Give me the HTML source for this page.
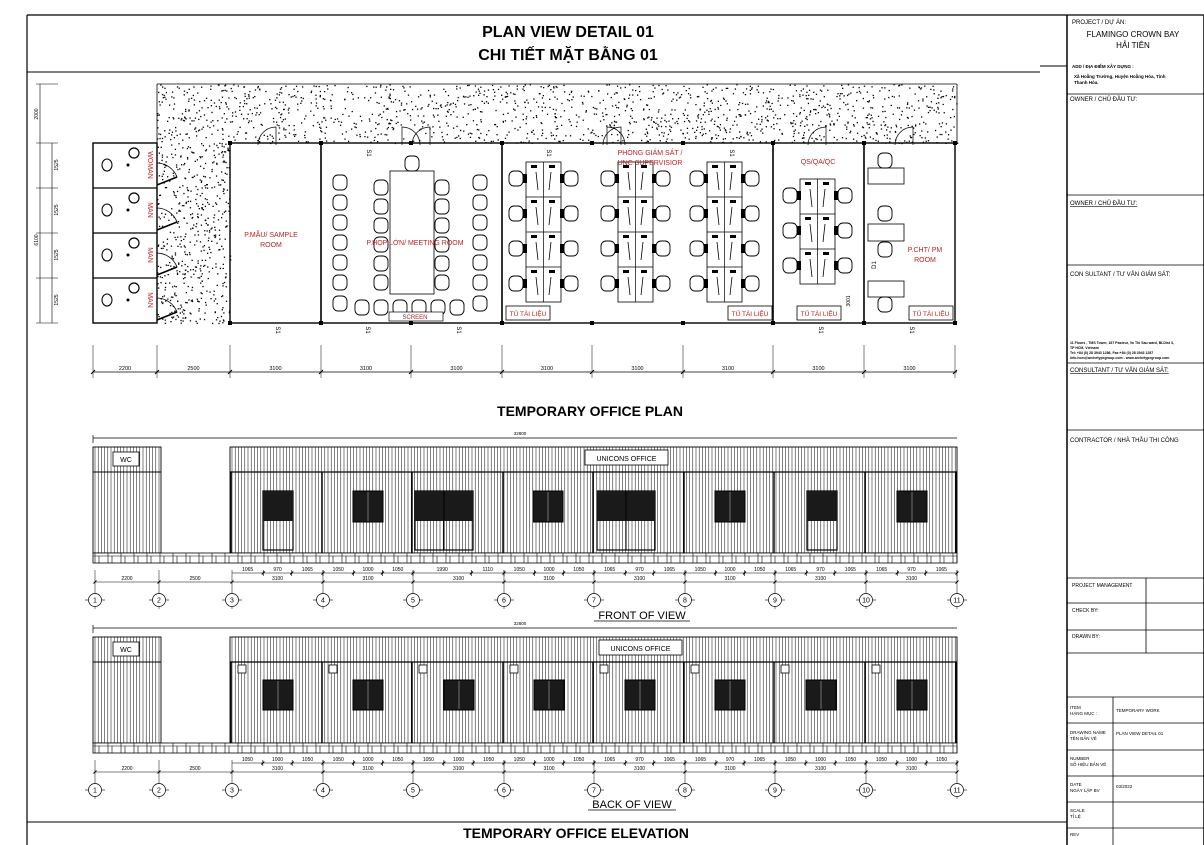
<!DOCTYPE html>
<html><head><meta charset="utf-8"><style>
html,body{margin:0;padding:0;background:#fff}
svg{display:block}
text{font-family:"Liberation Sans",sans-serif}
</style></head><body>
<svg id="s" width="1204" height="845" viewBox="0 0 1204 845" xmlns="http://www.w3.org/2000/svg">
<rect width="1204" height="845" fill="#fff"/>
<g id="g"></g>
<g font-weight="bold" text-anchor="middle" fill="#000">
<text x="568" y="37" font-size="16">PLAN VIEW DETAIL 01</text>
<text x="568" y="60" font-size="16">CHI TIẾT MẶT BẰNG 01</text>
<text x="590" y="416" font-size="14">TEMPORARY OFFICE PLAN</text>
<text x="576" y="838" font-size="14">TEMPORARY OFFICE ELEVATION</text>
</g>
<g font-size="11" fill="#000" text-anchor="middle">
<text x="642" y="619">FRONT OF VIEW</text>
<text x="632" y="808">BACK OF VIEW</text>
</g>
<line x1="594" y1="621" x2="690" y2="621" stroke="#000" stroke-width="0.8"/>
<line x1="588" y1="810" x2="676" y2="810" stroke="#000" stroke-width="0.8"/>
<g font-size="6" fill="#000">
<text x="1072" y="24">PROJECT / DỰ ÁN:</text>
<text x="1133" y="37" font-size="8" text-anchor="middle">FLAMINGO CROWN BAY</text>
<text x="1133" y="48" font-size="8" text-anchor="middle">HẢI TIÊN</text>
<text x="1072" y="68" font-size="4.5" font-weight="bold">ADD / ĐỊA ĐIỂM XÂY DỰNG :</text>
<text x="1074" y="78" font-size="4.5" font-weight="bold">Xã Hoằng Trường, Huyện Hoằng Hóa, Tỉnh</text>
<text x="1074" y="84" font-size="4.5" font-weight="bold">Thanh Hóa.</text>
<text x="1070" y="101">OWNER / CHỦ ĐẦU TƯ:</text>
<text x="1070" y="205" text-decoration="underline">OWNER / CHỦ ĐẦU TƯ:</text>
<text x="1070" y="276">CON SULTANT / TƯ VẤN GIÁM SÁT:</text>
<text x="1070" y="372" text-decoration="underline">CONSULTANT / TƯ VẤN GIÁM SÁT:</text>
<text x="1070" y="442">CONTRACTOR / NHÀ THẦU THI CÔNG</text>
<text x="1070" y="344" font-size="3.5" font-weight="bold">11 Floors , TMS Tower, 167 Pasteur, Vo Thi Sau ward, BLDist 3,</text>
<text x="1070" y="349" font-size="3.5" font-weight="bold">TP HCM, Vietnam</text>
<text x="1070" y="354" font-size="3.5" font-weight="bold">Tel: +84 (0) 28 3943 1286, Fax:+84 (0) 28 3943 1287</text>
<text x="1070" y="359" font-size="3.5" font-weight="bold">info.hcm@archetypegroup.com - www.archetypegroup.com</text>
<text x="1072" y="587" font-size="5">PROJECT MANAGEMENT</text>
<text x="1072" y="612" font-size="5">CHECK BY:</text>
<text x="1072" y="638" font-size="5">DRAWN BY:</text>
<text x="1070" y="709" font-size="4.5">ITEM</text><text x="1070" y="715" font-size="4.5">HẠNG MỤC :</text>
<text x="1116" y="712" font-size="4.5">TEMPORARY WORK</text>
<text x="1070" y="734" font-size="4.5">DRAWING NAME</text><text x="1070" y="740" font-size="4.5">TÊN BẢN VẼ</text>
<text x="1116" y="735" font-size="4.5">PLAN VIEW DETAIL 01</text>
<text x="1070" y="760" font-size="4.5">NUMBER</text><text x="1070" y="766" font-size="4.5">SỐ HIỆU BẢN VẼ</text>
<text x="1070" y="786" font-size="4.5">DATE</text><text x="1070" y="792" font-size="4.5">NGÀY LẬP BV</text>
<text x="1116" y="788" font-size="4.5">03/2022</text>
<text x="1070" y="812" font-size="4.5">SCALE</text><text x="1070" y="818" font-size="4.5">TỈ LỆ</text>
<text x="1070" y="836" font-size="4.5">REV</text>
</g>
</svg>
<script>
var o=[];function L(a,b,c,d,w,col){o.push('<line x1="'+a+'" y1="'+b+'" x2="'+c+'" y2="'+d+'" stroke="'+(col||'#000')+'" stroke-width="'+(w||0.6)+'"/>');}
function R(x,y,w,h,sw,f){o.push('<rect x="'+x+'" y="'+y+'" width="'+w+'" height="'+h+'" fill="'+(f||'none')+'" stroke="#000" stroke-width="'+(sw||0.6)+'"/>');}
function T(x,y,t,s,c,a,rot){o.push('<text x="'+x+'" y="'+y+'" font-size="'+s+'" fill="'+(c||'#000')+'" text-anchor="'+(a||'middle')+'"'+(rot?' transform="rotate('+rot+' '+x+' '+y+')"':'')+'>'+t+'</text>');}
var seed=7;function rnd(){seed=(seed*16807)%2147483647;return seed/2147483647;}
L(27,15,1204,15,1.2);L(27,15,27,845,1.2);L(1067,15,1067,845,1.5);L(1204,15,1204,845,1.5);
L(27,72,1040,72,1);L(1040,66,1067,66,1);L(27,822,1067,822,1);
[94,195,265,363,430,578,603,630,653,697,723,750,776,802,828].forEach(function(y){L(1067,y,1204,y,0.8);});
L(1146,578,1146,653,0.8);L(1113,697,1113,845,0.8);
function dots(x,y,w,h,n){for(var i=0;i<n;i++){var px=x+rnd()*w,py=y+rnd()*h;o.push('<rect x="'+px.toFixed(1)+'" y="'+py.toFixed(1)+'" width="1.3" height="1.3" fill="#000"/>');}}
dots(157,84,800,59,1500);dots(157,143,73,180,520);
L(157,84,957,84,0.8);L(157,84,157,145,0.8);L(957,84,957,143,0.8);
R(93,143,64,180,1.4);[188,233,278].forEach(function(y){L(93,y,157,y,1.2);});
var labels=[];
["WOMAN","MAN","MAN","MAN"].forEach(function(t,i){var y=143+i*45;
 o.push('<ellipse cx="107" cy="'+(y+22)+'" rx="5" ry="6" fill="none" stroke="#000" stroke-width="1"/>');
 o.push('<circle cx="134" cy="'+(y+10)+'" r="5" fill="none" stroke="#000" stroke-width="1.2"/>');
 o.push('<circle cx="128" cy="'+(y+22)+'" r="1.5" fill="#000"/>');
 T(148,y+22,t,7,'#b22',null,90);
 o.push('<path d="M157 '+(y+42)+' L177 '+(y+34)+' A22 22 0 0 0 157 '+(y+20)+'" fill="none" stroke="#000" stroke-width="0.8"/>');
 L(157,y+42,177,y+34,1.5);
});
R(230,143,725,180,1.4);
[321,502,773,864].forEach(function(x){L(x,143,x,323,1.6);});
[230,321,411,502,592,683,773,864,955].forEach(function(x){o.push('<rect x="'+(x-2)+'" y="141" width="4" height="4" fill="#000"/><rect x="'+(x-2)+'" y="321" width="4" height="4" fill="#000"/>');});
[[258,145],[412,145],[603,145],[808,145],[895,145]].forEach(function(d){o.push('<path d="M'+d[0]+' '+d[1]+' A18 18 0 0 1 '+(d[0]+18)+' '+(d[1]-18)+' L'+(d[0]+18)+' '+d[1]+'" fill="none" stroke="#000" stroke-width="0.7"/>');});
[[420,145],[625,145]].forEach(function(d){o.push('<path d="M'+d[0]+' '+d[1]+' A18 18 0 0 0 '+(d[0]-18)+' '+(d[1]-18)+' L'+(d[0]-18)+' '+d[1]+'" fill="none" stroke="#000" stroke-width="0.7"/>');});
function chair(x,y){o.push('<rect x="'+x+'" y="'+y+'" width="14" height="15" rx="5" fill="#fff" stroke="#000" stroke-width="0.9"/>');}
R(390,171,44,123,0.8,'#fff');
for(var i=0;i<6;i++){chair(333,175+i*20);chair(473,175+i*20);}
for(var i=0;i<6;i++){chair(374,180+i*19);chair(435,180+i*19);}
for(var i=0;i<6;i++){chair(355+i*19,300);}chair(333,296);chair(473,296);chair(405,156);
R(389,312,54,9,0.7,'#fff');
function cluster(x,y,rows){R(x,y,35,rows*35,0.8,'#fff');L(x+17.5,y,x+17.5,y+rows*35,0.7);
 for(var r=0;r<rows;r++){var yy=y+r*35;if(r)L(x,yy,x+35,yy,0.7);
  o.push('<rect x="'+(x+5)+'" y="'+(yy+3)+'" width="6" height="3" fill="#000"/><rect x="'+(x+23)+'" y="'+(yy+3)+'" width="6" height="3" fill="#000"/>');
  o.push('<rect x="'+(x-3)+'" y="'+(yy+12)+'" width="4" height="9" fill="#000"/><rect x="'+(x+34)+'" y="'+(yy+12)+'" width="4" height="9" fill="#000"/>');
  L(x+10,yy+10,x+12,yy+28,0.8);L(x+25,yy+10,x+23,yy+28,0.8);
  chair(x-17,yy+9);chair(x+38,yy+9);}}
cluster(526,162,4);cluster(618,162,4);cluster(707,162,4);cluster(800,179,3);
[[506,306],[728,306],[797,306],[909,306]].forEach(function(p){R(p[0],p[1],44,14,0.8,'#fff');T(p[0]+22,p[1]+10,'TỦ TÀI LIỆU',6.5,'#b22');});
R(868,168,36,16,0.8);R(868,224,36,17,0.8);R(868,281,36,16,0.8);
chair(878,153);chair(878,206);chair(878,242);chair(878,297);
T(876,265,'D1',6,'#000',null,-90);T(850,301,'3001',5,'#000',null,-90);
// labels on top
T(415,319,'SCREEN',6,'#b22');
T(271,237,'P.MẪU/ SAMPLE',7,'#b22');T(271,247,'ROOM',7,'#b22');
T(415,245,'P.HỌP LỚN/ MEETING ROOM',7,'#b22');
T(650,155,'PHÒNG GIÁM SÁT /',7,'#b22');T(650,165,'UNC SUPERVISIOR',7,'#b22');
T(818,164,'QS/QA/QC',7,'#b22');T(925,252,'P.CHT/ PM',7,'#b22');T(925,262,'ROOM',7,'#b22');
[[367,153],[547,153],[730,153],[276,330],[366,330],[457,330],[819,330],[910,330]].forEach(function(p){T(p[0],p[1],'S1',6,'#000',null,90);});
L(93,372,957,372,0.7);var g=[93,157,230,321,411,502,592,683,773,864,955];
g.forEach(function(x){L(x,345,x,378,0.5);L(x-2,374,x+2,370,1);});
var dl=[2200,2500,3100,3100,3100,3100,3100,3100,3100,3100];
for(var i=0;i<10;i++)T((g[i]+g[i+1])/2,370,dl[i],5.5);
L(40,84,40,323,0.6);[84,143,188,233,278,323].forEach(function(y){L(36,y,58,y,0.5);});
T(38,114,'2000',5,'#000',null,-90);T(38,240,'6100',5,'#000',null,-90);
[165,210,255,300].forEach(function(y){T(58,y,'1525',5,'#000',null,-90);});
L(52,143,52,323,0.6);
var G=[95,159,232,323,413,504,594,685,775,866,957];
function elev(y0,front){
 L(93,y0-9,957,y0-9,0.7);L(93,y0-12,93,y0-4,0.7);T(520,y0-12,'32800',4.5);
 R(93,y0,68,106,0.9,'#fff');L(93,y0+25,161,y0+25,1);
 for(var x=95;x<161;x+=3.2)L(x,y0,x,y0+106,0.5);
 R(113,y0+5,26,14,0.8,'#fff');T(126,y0+15,'WC',7);
 R(230,y0,727,106,0.9,'#fff');L(230,y0+25,957,y0+25,1.2);
 for(var x=232;x<957;x+=3.2)L(x,y0,x,y0+106,0.5);
 for(var i=2;i<11;i++){L(G[i]-1,y0+25,G[i]-1,y0+106,1.4);}
 R(93,y0+106,864,10,0.8,'#fff');L(93,y0+109,957,y0+109,0.5);
 for(var x=95;x<957;x+=13){L(x,y0+106,x,y0+116,0.6);L(x+4,y0+109,x+4,y0+116,0.6);}
 var lx=front?585:599;R(lx,y0+3,83,15,0.8,'#fff');T(lx+41.5,y0+14,'UNICONS OFFICE',7);
 if(front){
  var W=[[263,30,1],[353,30,0],[415,58,2],[533,30,0],[597,58,2],[715,30,0],[807,30,1],[897,30,0]];
  W.forEach(function(w){var x=w[0],ww=w[1];
   if(w[2]){R(x,y0+44,ww,59,1.2);o.push('<rect x="'+x+'" y="'+(y0+44)+'" width="'+ww+'" height="30" fill="#1a1a1a"/>');if(w[2]==2)L(x+ww/2,y0+44,x+ww/2,y0+103,1);}
   else{o.push('<rect x="'+x+'" y="'+(y0+44)+'" width="'+ww+'" height="31" fill="#1a1a1a" stroke="#000"/>');L(x+ww/2,y0+45,x+ww/2,y0+74,0.8,'#888');}});
 }else{
  [263,353,444,534,625,715,806,897].forEach(function(x,i){o.push('<rect x="'+x+'" y="'+(y0+43)+'" width="30" height="30" fill="#1a1a1a" stroke="#000"/>');L(x+15,y0+44,x+15,y0+72,0.8,'#888');
   R(G[i+2]+6,y0+28,8,8,0.8,'#fff');});
 }
 var sub=front?[[1065,970,1065],[1050,1000,1050],[1990,1110],[1050,1000,1050],[1065,970,1065],[1050,1000,1050],[1065,970,1065],[1065,970,1065]]:[[1050,1000,1050],[1050,1000,1050],[1050,1000,1050],[1050,1000,1050],[1065,970,1065],[1065,970,1065],[1050,1000,1050],[1050,1000,1050]];
 var yd=y0+126,ym=y0+135;L(232,yd,957,yd,0.6);L(95,ym,957,ym,0.6);
 for(var i=2;i<10;i++){var a=G[i],b=G[i+1],s=sub[i-2],tot=s.reduce(function(p,c){return p+c},0),cx=a;
  s.forEach(function(v){var nx=cx+(b-a)*v/tot;T((cx+nx)/2,yd-2,v,5);cx=nx;L(nx,yd-3,nx,yd+3,0.6);L(nx-1.5,yd+1.5,nx+1.5,yd-1.5,1);});
  T((a+b)/2,ym-2,3100,5);}
 T(127,ym-2,2200,5);T(195,ym-2,2500,5);
 for(var i=0;i<11;i++){var x=G[i];L(x,yd-3,x,y0+162,0.5);L(x-1.5,ym+1.5,x+1.5,ym-1.5,1);
  var cy=y0+153;o.push('<circle cx="'+x+'" cy="'+cy+'" r="6.5" fill="#fff" stroke="#000" stroke-width="0.7"/>');L(x-10,cy,x-6.5,cy,0.6);L(x+6.5,cy,x+10,cy,0.6);
  T(x,cy+2.5,i+1,7);}
}
elev(447,true);elev(637,false);
document.getElementById('g').innerHTML=o.join('');
</script>
</body></html>
